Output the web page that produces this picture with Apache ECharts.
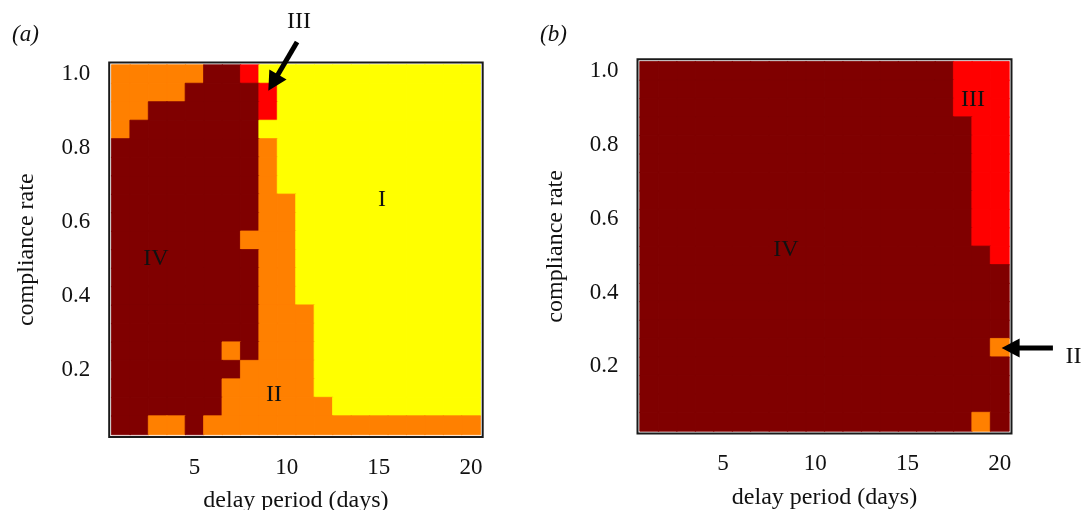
<!DOCTYPE html>
<html>
<head>
<meta charset="utf-8">
<style>
  html, body { margin: 0; padding: 0; background: #fff; }
  #chart { width: 1085px; height: 510px; }
</style>
<script src="https://cdn.jsdelivr.net/npm/echarts@6/dist/echarts.min.js"></script>
</head>
<body>
<div id="chart"></div>
<script>
// ---- data ----
const days = [1, 2, 3, 4, 5, 6, 7, 8, 9, 10, 11, 12, 13, 14, 15, 16, 17, 18, 19, 20];
const rates = [0.05, 0.10, 0.15, 0.20, 0.25, 0.30, 0.35, 0.40, 0.45, 0.50,
               0.55, 0.60, 0.65, 0.70, 0.75, 0.80, 0.85, 0.90, 0.95, 1.00];
const xTickLabels = [5, 10, 15, 20];
const yTickLabels = [0.2, 0.4, 0.6, 0.8, 1.0];
// region codes: 1 = I (yellow), 2 = II (orange), 3 = III (red), 4 = IV (dark red)
const regionNames = ['I', 'II', 'III', 'IV'];
const regionColors = ['#FFFF00', '#FF8000', '#FF0000', '#800000'];
// rows listed from compliance rate 1.00 (top) down to 0.05 (bottom), columns day 1..20
const panelA = [
  '22222443111111111111', // 1.00
  '22224444311111111111', // 0.95
  '22444444311111111111', // 0.90
  '24444444111111111111', // 0.85
  '44444444211111111111', // 0.80
  '44444444211111111111', // 0.75
  '44444444211111111111', // 0.70
  '44444444221111111111', // 0.65
  '44444444221111111111', // 0.60
  '44444442221111111111', // 0.55
  '44444444221111111111', // 0.50
  '44444444221111111111', // 0.45
  '44444444221111111111', // 0.40
  '44444444222111111111', // 0.35
  '44444444222111111111', // 0.30
  '44444424222111111111', // 0.25
  '44444442222111111111', // 0.20
  '44444422222111111111', // 0.15
  '44444422222211111111', // 0.10
  '44224222222222222222'  // 0.05
];
const panelB = [
  '44444444444444444333', // 1.00
  '44444444444444444333', // 0.95
  '44444444444444444333', // 0.90
  '44444444444444444433', // 0.85
  '44444444444444444433', // 0.80
  '44444444444444444433', // 0.75
  '44444444444444444433', // 0.70
  '44444444444444444433', // 0.65
  '44444444444444444433', // 0.60
  '44444444444444444433', // 0.55
  '44444444444444444443', // 0.50
  '44444444444444444444', // 0.45
  '44444444444444444444', // 0.40
  '44444444444444444444', // 0.35
  '44444444444444444444', // 0.30
  '44444444444444444442', // 0.25
  '44444444444444444444', // 0.20
  '44444444444444444444', // 0.15
  '44444444444444444444', // 0.10
  '44444444444444444424'  // 0.05
];
// region label positions (day, compliance rate)
const labelsA = [
  { text: 'I',   day: 15.17, rate: 0.66 },
  { text: 'IV',  day: 2.9,   rate: 0.50 },
  { text: 'II',  day: 9.31,  rate: 0.132 },
  { text: 'III', day: 10.67, rate: 1.141 }
];
const labelsB = [
  { text: 'III', day: 18.55, rate: 0.921 },
  { text: 'IV',  day: 8.41,  rate: 0.515 },
  { text: 'II',  day: 24.0,  rate: 0.225 }
];
// arrows: from tail (day, rate) to tip (day, rate)
const arrowsA = [{ tail: [10.56, 1.087], tip: [9.0, 0.955] }];
const arrowsB = [{ tail: [22.88, 0.25], tip: [20.1, 0.25] }];

// ---- helpers ----
function toCells(rows) {
  const out = [];
  rows.forEach((row, r) => {
    for (let c = 0; c < row.length; c++) {
      const code = Number(row[c]);
      const col = regionColors[code - 1];
      out.push({
        name: regionNames[code - 1],
        value: [c, rates.length - 1 - r, code],
        itemStyle: { color: col, borderColor: col, borderWidth: 0.8 }
      });
    }
  });
  return out;
}

const FONT = "'Liberation Serif', 'DejaVu Serif', 'Times New Roman', serif";
const grids = [
  { left: 111.7, top: 65, width: 368.5, height: 369.5 },
  { left: 640, top: 61.7, width: 369, height: 369.3 }
];
const FRAME_OFF = 2.5;

function makeX(gi) {
  return {
    type: 'category', gridIndex: gi, data: days.map(String), offset: FRAME_OFF,
    axisLine: { show: false },
    axisTick: {
      alignWithLabel: true, length: 12,
      interval: (i, v) => xTickLabels.indexOf(Number(v)) >= 0,
      lineStyle: { color: '#1a1a1a', width: 1.5 }
    },
    axisLabel: {
      interval: (i, v) => xTickLabels.indexOf(Number(v)) >= 0,
      margin: 19, fontSize: 23, color: '#111', fontFamily: FONT
    },
    splitLine: { show: false },
    name: 'delay period (days)', nameLocation: 'middle', nameGap: 52,
    nameTextStyle: { fontSize: 24, color: '#111', fontFamily: FONT }
  };
}
function makeY(gi) {
  const isTick = (v) => yTickLabels.some(t => Math.abs(t - Number(v)) < 1e-6);
  return {
    type: 'category', gridIndex: gi, data: rates.map(r => r.toFixed(2)), offset: FRAME_OFF,
    axisLine: { show: false },
    axisTick: {
      alignWithLabel: true, length: 12,
      interval: (i, v) => isTick(v),
      lineStyle: { color: '#1a1a1a', width: 1.5 }
    },
    axisLabel: {
      interval: (i, v) => isTick(v),
      formatter: (v) => Number(v).toFixed(1),
      margin: 19, fontSize: 23, color: '#111', fontFamily: FONT
    },
    splitLine: { show: false },
    name: 'compliance rate', nameLocation: 'middle', nameGap: 70, nameRotate: 90,
    nameTextStyle: { fontSize: 24, color: '#111', fontFamily: FONT }
  };
}

const chart = echarts.init(document.getElementById('chart'), null, { renderer: 'canvas' });
chart.setOption({
  animation: false,
  backgroundColor: '#fff',
  title: [
    { text: '(a)', left: 7, top: 18, textStyle: { fontSize: 23, fontStyle: 'italic', fontWeight: 'normal', fontFamily: FONT, color: '#111' } },
    { text: '(b)', left: 535, top: 18, textStyle: { fontSize: 23, fontStyle: 'italic', fontWeight: 'normal', fontFamily: FONT, color: '#111' } }
  ],
  grid: grids.map(g => Object.assign({ containLabel: false, outerBoundsMode: 'none', show: false }, g)),
  xAxis: [makeX(0), makeX(1)],
  yAxis: [makeY(0), makeY(1)],
  series: [
    { type: 'heatmap', xAxisIndex: 0, yAxisIndex: 0, data: toCells(panelA), emphasis: { disabled: true }, progressive: 0 },
    { type: 'heatmap', xAxisIndex: 1, yAxisIndex: 1, data: toCells(panelB), emphasis: { disabled: true }, progressive: 0 }
  ]
});

function toPx(gi, day, rate) {
  const p0 = chart.convertToPixel({ gridIndex: gi }, [0, 0]);
  const p1 = chart.convertToPixel({ gridIndex: gi }, [days.length - 1, rates.length - 1]);
  const x = p0[0] + (day - days[0]) / (days[days.length - 1] - days[0]) * (p1[0] - p0[0]);
  const y = p0[1] + (rate - rates[0]) / (rates[rates.length - 1] - rates[0]) * (p1[1] - p0[1]);
  return [x, y];
}
function arrowEls(tail, tip, headLen, headHalf, lw) {
  const dx = tip[0] - tail[0], dy = tip[1] - tail[1];
  const L = Math.hypot(dx, dy), ux = dx / L, uy = dy / L;
  const bx = tip[0] - ux * headLen, by = tip[1] - uy * headLen;
  const px = -uy, py = ux;
  return [
    { type: 'line', silent: true, z: 100,
      shape: { x1: tail[0], y1: tail[1], x2: bx + ux * 2, y2: by + uy * 2 },
      style: { stroke: '#000', lineWidth: lw } },
    { type: 'polygon', silent: true, z: 100,
      shape: { points: [tip, [bx + px * headHalf, by + py * headHalf], [bx - px * headHalf, by - py * headHalf]] },
      style: { fill: '#000' } }
  ];
}

const graphics = [];
grids.forEach(g => {
  graphics.push({
    type: 'rect', silent: true, z: 90,
    shape: { x: g.left - FRAME_OFF, y: g.top - FRAME_OFF, width: g.width + 2 * FRAME_OFF, height: g.height + 2 * FRAME_OFF },
    style: { fill: 'none', stroke: '#1a1a1a', lineWidth: 2 }
  });
});
[[labelsA, 0], [labelsB, 1]].forEach(([list, gi]) => {
  list.forEach(l => {
    const p = toPx(gi, l.day, l.rate);
    graphics.push({
      type: 'text', silent: true, z: 100,
      style: { text: l.text, x: p[0], y: p[1], align: 'center', verticalAlign: 'middle',
               fontSize: 24, fontFamily: FONT, fill: '#111' }
    });
  });
});
[[arrowsA, 0, 19, 10], [arrowsB, 1, 18, 9.5]].forEach(([list, gi, hl, hh]) => {
  list.forEach(a => {
    const tail = toPx(gi, a.tail[0], a.tail[1]);
    const tip = toPx(gi, a.tip[0], a.tip[1]);
    arrowEls(tail, tip, hl, hh, 5).forEach(e => graphics.push(e));
  });
});
chart.setOption({ graphic: graphics });
</script>
</body>
</html>
